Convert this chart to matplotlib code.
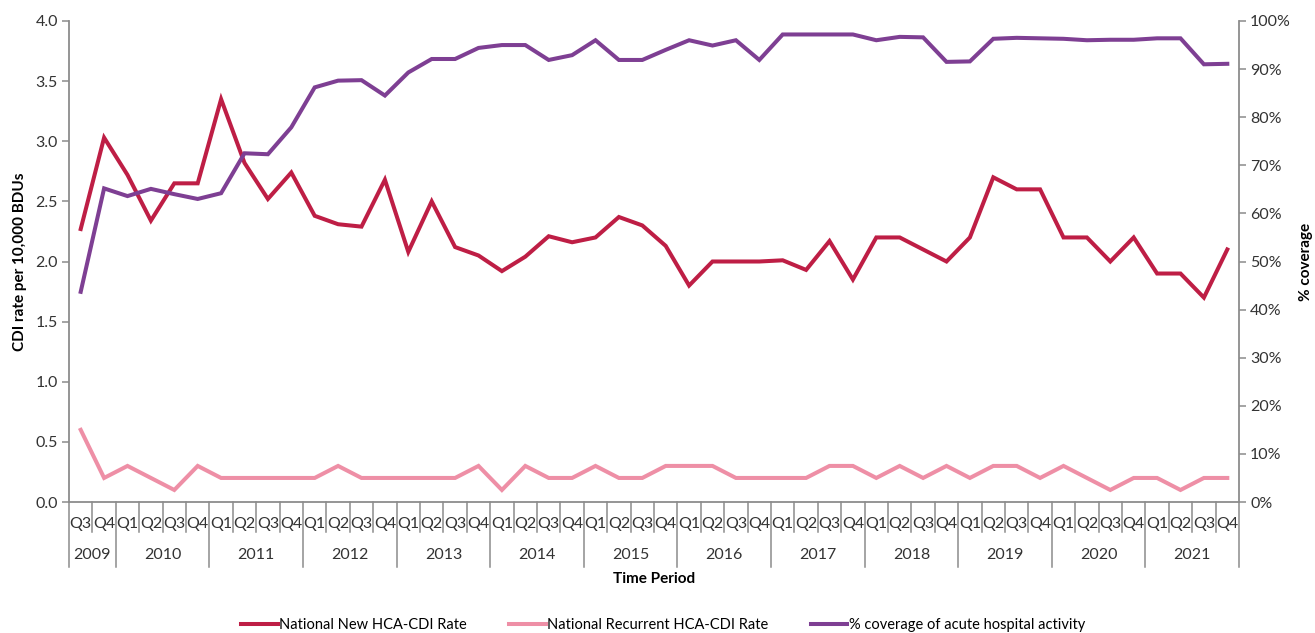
import matplotlib
matplotlib.use("Agg")
import matplotlib.pyplot as plt
import matplotlib.transforms as mtransforms
from matplotlib.ticker import FuncFormatter, MultipleLocator

plt.rcParams['font.family'] = ['Lato', 'DejaVu Sans']

years = ['2009', '2010', '2011', '2012', '2013', '2014', '2015', '2016',
         '2017', '2018', '2019', '2020', '2021']
quarters = ['Q3', 'Q4'] + ['Q1', 'Q2', 'Q3', 'Q4'] * 12

new_rate = [2.27, 3.03, 2.72, 2.34, 2.65, 2.65,
            3.35, 2.82, 2.52, 2.74,
            2.38, 2.31, 2.29, 2.68,
            2.08, 2.50, 2.12, 2.05,
            1.92, 2.04, 2.21, 2.16,
            2.20, 2.37, 2.30, 2.13,
            1.80, 2.00, 2.00, 2.00,
            2.01, 1.93, 2.17, 1.85,
            2.20, 2.20, 2.10, 2.00,
            2.20, 2.70, 2.60, 2.60,
            2.20, 2.20, 2.00, 2.20,
            1.90, 1.90, 1.70, 2.10]

recurrent_rate = [0.6, 0.2, 0.3, 0.2, 0.1, 0.3,
                  0.2, 0.2, 0.2, 0.2,
                  0.2, 0.3, 0.2, 0.2,
                  0.2, 0.2, 0.2, 0.3,
                  0.1, 0.3, 0.2, 0.2,
                  0.3, 0.2, 0.2, 0.3,
                  0.3, 0.3, 0.2, 0.2,
                  0.2, 0.2, 0.3, 0.3,
                  0.2, 0.3, 0.2, 0.3,
                  0.2, 0.3, 0.3, 0.2,
                  0.3, 0.2, 0.1, 0.2,
                  0.2, 0.1, 0.2, 0.2]

coverage = [43.7, 65.2, 63.6, 65.1, 64.0, 63.0,
            64.2, 72.5, 72.3, 77.9,
            86.2, 87.6, 87.7, 84.5,
            89.3, 92.1, 92.1, 94.4,
            95.0, 95.0, 91.9, 92.9,
            96.0, 91.9, 91.9, 94.0,
            96.0, 94.9, 96.0, 91.9,
            97.2, 97.2, 97.2, 97.2,
            96.0, 96.7, 96.6, 91.5,
            91.6, 96.3, 96.5, 96.4,
            96.3, 96.0, 96.1, 96.1,
            96.4, 96.4, 91.0, 91.1]

RED = '#BE1E45'
PINK = '#EE8FA6'
PURPLE = '#7E3F93'
AXC = '#8C8C8C'

W, H = 1315, 633
fig = plt.figure(figsize=(W / 100, H / 100), dpi=100)
left, right, top, bottom = 69, 1239, 21, 502
ax = fig.add_axes([left / W, 1 - bottom / H, (right - left) / W, (bottom - top) / H])
ax2 = ax.twinx()

x = list(range(len(quarters)))
l1, = ax.plot(x, new_rate, color=RED, lw=2.9, solid_joinstyle='miter', zorder=3)
l2, = ax.plot(x, recurrent_rate, color=PINK, lw=2.9, solid_joinstyle='miter', zorder=3)
l3, = ax2.plot(x, coverage, color=PURPLE, lw=2.9, solid_joinstyle='miter', zorder=3)

ax.set_xlim(-0.5, len(quarters) - 0.5)
ax.set_ylim(0, 4.0)
ax2.set_ylim(0, 100)
ax.yaxis.set_major_locator(MultipleLocator(0.5))
ax.yaxis.set_major_formatter(FuncFormatter(lambda v, p: f'{v:.1f}'))
ax2.yaxis.set_major_locator(MultipleLocator(10))
ax2.yaxis.set_major_formatter(FuncFormatter(lambda v, p: f'{v:.0f}%'))

for a in (ax, ax2):
    for s in a.spines.values():
        s.set_visible(False)
ax.spines['left'].set_visible(True)
ax.spines['bottom'].set_visible(True)
ax2.spines['right'].set_visible(True)
for s in (ax.spines['left'], ax.spines['bottom'], ax2.spines['right']):
    s.set_color(AXC)
    s.set_linewidth(1.3)

ax.tick_params(axis='y', length=5, width=1.1, color=AXC, labelsize=11.5, labelcolor='#333333', pad=3)
ax2.tick_params(axis='y', length=5, width=1.1, color=AXC, labelsize=11.5, labelcolor='#333333', pad=3)

ax.set_xticks(x)
ax.set_xticklabels(quarters)
ax.tick_params(axis='x', length=0, labelsize=11.5, labelcolor='#333333', pad=11)

ax.set_ylabel('CDI rate per 10,000 BDUs', fontsize=11, fontweight='bold', labelpad=6)
ax2.set_ylabel('% coverage', fontsize=11, fontweight='bold', labelpad=6)

# category separators
trans = mtransforms.blended_transform_factory(ax.transData, ax.transAxes)
axh = bottom - top
q_end = -(532 - bottom) / axh
y_end = -(567 - bottom) / axh
year_counts = [2] + [4] * 12
year_bounds = [-0.5]
pos = -0.5
for c in year_counts:
    pos += c
    year_bounds.append(pos)
for k in range(len(quarters) + 1):
    b = k - 0.5
    yb = y_end if b in year_bounds else q_end
    ax.plot([b, b], [0, yb], transform=trans, color=AXC, lw=1.1, clip_on=False)

start = -0.5
for yr, c in zip(years, year_counts):
    cx = start + c / 2
    ax.text(cx, -(555 - bottom) / axh, yr, transform=trans, ha='center', va='center',
            fontsize=11.5, color='#333333')
    start += c

ax.text(0.5, -(579 - bottom) / axh, 'Time Period', transform=ax.transAxes, ha='center',
        va='center', fontsize=11, fontweight='bold')

fig.legend([l1, l2, l3],
           ['National New HCA-CDI Rate', 'National Recurrent HCA-CDI Rate',
            '% coverage of acute hospital activity'],
           loc='center', bbox_to_anchor=(663 / W, 1 - 625 / H), ncol=3, frameon=False,
           fontsize=10.5, handlelength=2.5, handletextpad=0.1, columnspacing=2.9)

fig.savefig('out.png', dpi=100)
